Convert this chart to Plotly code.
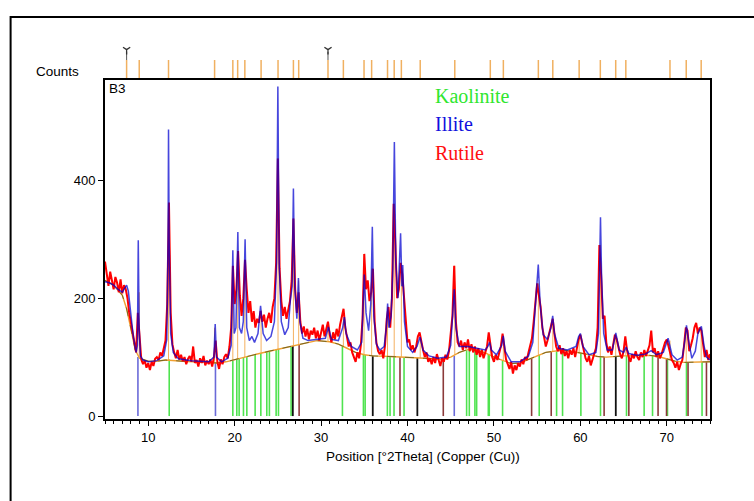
import numpy as np
import plotly.graph_objects as go

# ---------------- data ----------------
obs_start, obs_step = 5.0, 0.2
obs_counts = [
    262, 238, 221, 245, 230, 215, 236, 226, 210, 232,   # 5.0
    208, 222, 215, 200, 175, 158, 136, 118, 108, 175,   # 7.0
    130, 96, 88, 94, 82, 90, 78, 92, 85, 97,            # 9.0
    100, 95, 108, 102, 115, 128, 190, 362, 175, 122,    # 11.0
    108, 98, 112, 96, 104, 93, 100, 88, 97, 102,        # 13.0
    92, 118, 90, 95, 84, 98, 90, 102, 86, 94,           # 15.0
    88, 96, 84, 100, 128, 92, 80, 96, 88, 100,          # 17.0
    105, 98, 118, 150, 255, 190, 215, 280, 205, 170,    # 19.0
    200, 265, 215, 175, 195, 160, 178, 150, 165, 158,   # 21.0
    178, 160, 172, 150, 165, 175, 158, 185, 200, 260,   # 23.0
    437, 250, 195, 170, 185, 165, 180, 195, 230, 335,   # 25.0
    215, 175, 210, 160, 140, 152, 135, 148, 130, 145,   # 27.0
    138, 150, 132, 145, 128, 140, 155, 135, 148, 160,   # 29.0
    138, 125, 142, 130, 148, 135, 155, 170, 182, 150,   # 31.0
    130, 118, 125, 108, 100, 92, 108, 98, 120, 165,     # 33.0
    275, 215, 230, 195, 210, 250, 160, 125, 110, 105,   # 35.0
    112, 98, 120, 165, 185, 150, 200, 360, 290, 200,    # 37.0
    215, 260, 240, 200, 150, 125, 130, 112, 120, 108,   # 39.0
    118, 135, 142, 125, 112, 100, 108, 92, 98, 88,      # 41.0
    100, 90, 105, 95, 85, 98, 92, 104, 96, 110,         # 43.0
    135, 170, 255, 160, 125, 118, 128, 112, 125, 115,   # 45.0
    130, 110, 122, 108, 118, 104, 115, 100, 112, 98,    # 47.0
    108, 118, 142, 120, 100, 92, 104, 95, 108, 118,     # 49.0
    140, 120, 96, 88, 80, 92, 72, 86, 78, 90,           # 51.0
    84, 96, 88, 100, 95, 108, 118, 132, 160, 190,       # 53.0
    225, 205, 185, 150, 130, 118, 128, 140, 155, 165,   # 55.0
    140, 118, 110, 120, 105, 115, 102, 110, 98, 112,    # 57.0
    104, 115, 100, 118, 130, 138, 125, 108, 98, 92,     # 59.0
    102, 86, 95, 108, 115, 150, 290, 240, 165, 170,     # 61.0
    125, 108, 118, 104, 120, 138, 130, 115, 105, 98,    # 63.0
    110, 135, 112, 100, 92, 105, 98, 110, 100, 95,      # 65.0
    108, 100, 112, 102, 110, 120, 145, 108, 115, 100,   # 67.0
    110, 98, 105, 115, 125, 130, 118, 108, 95, 90,      # 69.0
    82, 92, 78, 88, 95, 120, 150, 145, 110, 120,        # 71.0
    132, 150, 158, 140, 150, 145, 118, 100, 112, 95,    # 73.0
    105,                                                # 75.0
]

calc_x = [5.0, 5.5, 6.0, 6.5, 7.0, 7.3, 7.5, 7.7, 8.0, 8.3, 8.6, 8.75, 8.85, 8.95, 9.1, 9.4,
          10.0, 11.0, 11.8, 12.15, 12.3, 12.35, 12.42, 12.6, 12.9, 13.5, 15.0, 17.0, 17.6, 17.75,
          17.9, 18.5, 19.2, 19.6, 19.79, 19.95, 20.15, 20.37, 20.55, 20.8, 21.0, 21.21, 21.4,
          21.7, 22.0, 22.3, 22.7, 23.0, 23.3, 23.7, 24.2, 24.6, 24.85, 25.0, 25.15, 25.4, 25.8,
          26.2, 26.45, 26.65, 26.8, 26.95, 27.2, 27.38, 27.55, 27.9, 28.5, 29.5, 30.5, 30.85,
          31.2, 32.0, 32.5, 32.7, 32.9, 33.5, 34.2, 34.7, 34.85, 35.0, 35.2, 35.5, 35.75, 35.93,
          36.1, 36.4, 36.8, 37.3, 37.55, 37.7, 37.85, 38.1, 38.3, 38.48, 38.65, 38.9, 39.2,
          39.35, 39.45, 39.65, 40.0, 40.6, 41.1, 41.45, 41.8, 42.5, 43.5, 44.5, 45.0, 45.25,
          45.41, 45.6, 46.0, 47.0, 48.0, 49.0, 49.3, 49.5, 49.7, 50.3, 50.9, 51.08, 51.3, 52.0,
          53.0, 54.0, 54.5, 54.9, 55.13, 55.35, 55.7, 56.2, 56.6, 56.8, 57.0, 57.5, 58.5, 59.5,
          59.8, 60.0, 60.3, 61.0, 61.8, 62.1, 62.25, 62.33, 62.45, 62.7, 63.1, 63.7, 64.1, 64.5,
          65.0, 65.3, 65.6, 66.5, 67.5, 68.2, 68.8, 69.6, 70.15, 70.6, 71.2, 71.8, 72.1, 72.28,
          72.5, 72.9, 73.3, 73.6, 74.0, 74.3, 74.6, 75.0]
calc_counts = [228, 226, 222, 215, 210, 218, 222, 212, 172, 132, 108, 120, 298, 150, 102, 95,
               92, 94, 102, 130, 300, 486, 300, 140, 108, 97, 94, 92, 100, 156,
               100, 92, 98, 120, 281, 140, 150, 312, 150, 140, 160, 300, 150,
               128, 135, 125, 140, 187, 140, 128, 135, 160, 260, 559, 260, 160, 138,
               150, 197, 220, 386, 220, 165, 234, 160, 132, 128, 130, 132, 151,
               130, 128, 150, 168, 140, 118, 112, 125, 200, 240, 175, 145, 190, 321,
               170, 122, 112, 118, 150, 191, 150, 170, 250, 465, 260, 200, 310,
               220, 256, 160, 118, 108, 118, 134, 112, 102, 98, 100, 120, 170,
               215, 150, 118, 118, 115, 112, 118, 125, 112, 104, 120, 136, 110, 92,
               92, 102, 125, 200, 257, 190, 138, 130, 150, 170, 140, 115, 112, 118,
               135, 140, 118, 104, 108, 140, 250, 337, 240, 140, 112, 112, 141, 112,
               108, 117, 106, 103, 105, 111, 104, 108, 132, 104, 95, 100, 130, 154,
               130, 98, 110, 140, 152, 120, 100, 95]

bg_x = [5, 6, 7, 7.5, 8, 8.5, 9, 10, 11, 12, 14, 16, 18, 19, 20, 22, 24, 26, 28, 29.5, 31, 32,
        33, 34, 35, 36, 38, 40, 42, 44, 45, 46, 47, 48, 49, 50, 51, 52, 53, 54, 55, 56, 58, 59,
        60, 62, 63, 65, 67, 68, 69, 70, 71, 72, 73, 75]
bg_counts = [230, 222, 205, 182, 148, 112, 98, 93, 93, 95, 93, 92, 90, 92, 96, 103, 110, 117,
             124, 128, 126, 122, 115, 108, 104, 102, 101, 100, 98, 96, 100, 108, 113, 112, 107,
             100, 94, 89, 90, 96, 103, 108, 112, 110, 107, 101, 100, 102, 103, 103, 101, 97, 93,
             91, 91, 92]

kaolinite_pos = [12.43, 19.79, 20.25, 20.52, 21.02, 21.41, 22.37, 23.03, 23.72, 24.02, 24.8,
                 25.07, 26.53, 32.47, 34.9, 35.1, 37.67, 37.98, 38.44, 39.6, 46.84, 47.15, 47.8,
                 48.0, 49.35, 49.46, 51.0, 55.24, 57.25, 57.94, 60.06, 62.33, 65.34, 67.38,
                 68.35, 70.08, 72.28, 74.08]
kaolinite_h = [96, 94, 97, 98, 100, 101, 104, 107, 109, 110, 113, 114, 119, 118, 104, 104, 101,
               101, 101, 100, 112, 113, 112, 112, 105, 104, 94, 104, 110, 111, 107, 101, 102,
               103, 103, 97, 91, 92]
illite_pos = [8.81, 17.78, 45.41]
illite_h = [100, 90, 102]
rutile_pos = [27.46, 39.13, 44.14, 54.36, 56.63, 62.75, 65.61, 68.99, 69.97, 72.46, 74.59]
rutile_h = [121, 100, 96, 98, 109, 100, 102, 101, 97, 91, 92]
other_pos = [26.73, 35.98, 41.14, 64.1]
other_h = [119, 102, 99, 101]

peak_pos = [7.50, 8.96, 12.35, 17.68, 19.79, 20.35, 21.18, 23.06, 25.02, 26.80, 27.41, 30.80,
            32.58, 34.97, 35.85, 37.69, 38.46, 39.29, 41.47, 45.47, 49.58, 51.09, 55.14, 56.81,
            59.86, 62.31, 64.09, 65.26, 70.37, 72.25, 73.98]
peak_top = [180, 210, 360, 150, 250, 280, 265, 180, 437, 335, 230, 150, 165, 275, 250, 185,
            360, 260, 130, 255, 125, 135, 225, 165, 135, 290, 135, 115, 128, 150, 150]
marked_pos = [7.50, 30.80]

x_ticks = [10, 20, 30, 40, 50, 60, 70]
y_ticks = [0, 200, 400]
legend_names = ["Kaolinite", "Illite", "Rutile"]
legend_colors = ["#2fe62f", "#1010dd", "#ff1010"]

# ---------------- build ----------------
obs_x = np.round(obs_start + obs_step * np.arange(len(obs_counts)), 2)


def segments(pos, lo, hi):
    xs, ys = [], []
    for p, a, b in zip(pos, lo, hi):
        xs += [p, p, None]
        ys += [a, b, None]
    return xs, ys


fig = go.Figure()

stick_sets = [
    (kaolinite_pos, kaolinite_h, "#4fe34f", 1.6),
    (illite_pos, illite_h, "#6a6ad8", 1.6),
    (rutile_pos, rutile_h, "#8b3a3a", 1.6),
    (other_pos, other_h, "#111111", 1.8),
]
for pos, h, col, w in stick_sets:
    sx, sy = segments(pos, [0] * len(pos), h)
    fig.add_trace(go.Scatter(x=sx, y=sy, mode="lines", line=dict(color=col, width=w),
                             hoverinfo="skip", showlegend=False))

peak_base = np.interp(peak_pos, bg_x, bg_counts)
px_, py_ = segments(peak_pos, peak_base, peak_top)
fig.add_trace(go.Scatter(x=px_, y=py_, mode="lines", line=dict(color="#f4b060", width=1),
                         hoverinfo="skip", showlegend=False))

fig.add_trace(go.Scatter(x=bg_x, y=bg_counts, mode="lines", line=dict(color="#f0a030", width=1.4),
                         hoverinfo="skip", showlegend=False))
fig.add_trace(go.Scatter(x=bg_x, y=bg_counts, mode="lines",
                         line=dict(color="#3d4a1a", width=0.7, dash="dash"),
                         hoverinfo="skip", showlegend=False))

fig.add_trace(go.Scatter(x=obs_x, y=obs_counts, mode="lines",
                         line=dict(color="#ff0000", width=2.0), hoverinfo="skip",
                         showlegend=False))
fig.add_trace(go.Scatter(x=calc_x, y=calc_counts, mode="lines",
                         line=dict(color="#0000d0", width=1.5), opacity=0.72,
                         hoverinfo="skip", showlegend=False))

# top peak-position ticks
tx, ty = segments(peak_pos, [0.05] * len(peak_pos), [0.5] * len(peak_pos))
fig.add_trace(go.Scatter(x=tx, y=ty, mode="lines", line=dict(color="#f0b060", width=1.5),
                         xaxis="x", yaxis="y2", hoverinfo="skip", showlegend=False))
mx, my = segments(marked_pos, [0.5] * len(marked_pos), [0.7] * len(marked_pos))
fig.add_trace(go.Scatter(x=mx, y=my, mode="lines", line=dict(color="#555555", width=1),
                         xaxis="x", yaxis="y2", hoverinfo="skip", showlegend=False))
fig.add_trace(go.Scatter(x=marked_pos, y=[0.76] * len(marked_pos), mode="markers",
                         marker=dict(symbol="y-down-open", size=6, color="#333333",
                                     line=dict(color="#333333", width=1.3)),
                         xaxis="x", yaxis="y2", cliponaxis=False, hoverinfo="skip",
                         showlegend=False))

L, R, T, B = 105, 44, 40, 82
W, H = 754, 501
plot_h = H - T - B
main_top = (H - B - 80) / plot_h

font = "Liberation Sans, Arial, sans-serif"
fig.update_layout(
    width=W, height=H,
    margin=dict(l=L, r=R, t=T, b=B, pad=0),
    paper_bgcolor="white", plot_bgcolor="white",
    showlegend=False,
    font=dict(family=font, size=12, color="black"),
    xaxis=dict(range=[5, 75], tickvals=x_ticks, ticks="outside", ticklen=5, tickwidth=1.3,
               tickcolor="black", showgrid=False, zeroline=False, showline=True,
               linecolor="black", linewidth=2, mirror=True, anchor="y",
               tickfont=dict(family=font, size=13, color="black"),
               minor=dict(dtick=1, tick0=0, ticks="outside", ticklen=3, tickcolor="black",
                          tickwidth=1)),
    yaxis=dict(range=[-5, 570], domain=[0, main_top], tickvals=y_ticks, ticks="outside",
               ticklen=5, tickwidth=1.3, tickcolor="black", showgrid=False, zeroline=False,
               showline=True, linecolor="black", linewidth=2, mirror=True,
               tickfont=dict(family=font, size=13, color="black")),
    yaxis2=dict(domain=[main_top, 1], range=[0, 1], visible=False, anchor="x",
                fixedrange=True),
)

annotations = [
    dict(text="Position [°2Theta] (Copper (Cu))", x=(423 - L) / (W - L - R),
         y=(H - B - 456) / plot_h, xref="paper", yref="paper", showarrow=False,
         xanchor="center", yanchor="middle", font=dict(family=font, size=13.5, color="black")),
    dict(text="Counts", x=(57 - L) / (W - L - R), y=(H - B - 71) / plot_h, xref="paper",
         yref="paper", showarrow=False, xanchor="center", yanchor="middle",
         font=dict(family=font, size=13.5, color="black")),
    dict(text="B3", x=(107 - L) / (W - L - R), y=(H - B - 88) / plot_h, xref="paper",
         yref="paper", showarrow=False, xanchor="left", yanchor="middle",
         font=dict(family=font, size=13.5, color="black")),
]
leg_y = [96, 124.5, 152.5]
for name, col, yy in zip(legend_names, legend_colors, leg_y):
    annotations.append(dict(text=name, x=(433 - L) / (W - L - R), y=(H - B - yy) / plot_h,
                            xref="paper", yref="paper", showarrow=False, xanchor="left",
                            yanchor="middle",
                            font=dict(family="Liberation Serif, Times New Roman, serif",
                                      size=20, color=col)))
fig.update_layout(annotations=annotations)

# outer frame (extends past right/bottom edges of the window)
fig.add_shape(type="rect", xref="paper", yref="paper",
              x0=(10.6 - L) / (W - L - R), x1=1.3,
              y0=-0.4, y1=(H - B - 17) / plot_h,
              line=dict(color="black", width=2), fillcolor="rgba(0,0,0,0)", layer="above")

fig.write_html("out.html")
